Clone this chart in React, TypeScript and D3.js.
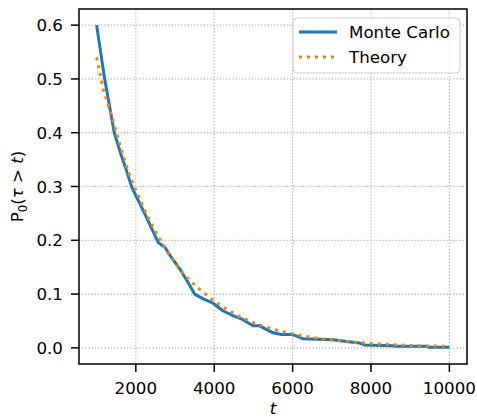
import React from "react";
import { scaleLinear, line } from "d3";

// Monte Carlo estimate (t, P0)
const mcT = [1000, 1200, 1450, 1620, 1760, 1890, 2000, 2190, 2570, 2740, 2910, 3120, 3330, 3500, 3720, 3970, 4220, 4480, 4690, 4990, 5160, 5500, 5710, 5990, 6260, 7030, 7370, 7710, 7830, 8560, 8640, 9410, 9490, 10000];
const mcP = [0.6, 0.502, 0.4, 0.36, 0.33, 0.3, 0.283, 0.255, 0.196, 0.187, 0.168, 0.147, 0.122, 0.1, 0.091, 0.083, 0.069, 0.06, 0.054, 0.041, 0.041, 0.028, 0.025, 0.025, 0.017, 0.015, 0.012, 0.009, 0.0055, 0.004, 0.003, 0.003, 0.001, 0.001];

// theory curve
const thT = [1000, 1170, 1380, 1550, 1800, 2000, 2230, 2530, 2870, 3250, 3560, 3900, 4270, 4630, 5030, 5230, 5640, 6070, 6500, 6940, 7580, 8000, 8640, 9320, 10000];
const thP = [0.54, 0.48, 0.432, 0.388, 0.329, 0.293, 0.255, 0.212, 0.171, 0.134, 0.113, 0.092, 0.074, 0.059, 0.046, 0.041, 0.032, 0.025, 0.019, 0.015, 0.0105, 0.008, 0.0056, 0.0037, 0.003];

const xTicks = [2000, 4000, 6000, 8000, 10000];
const yTicks = [0, 0.1, 0.2, 0.3, 0.4, 0.5, 0.6];

const W = 477;
const H = 417;
const left = 79, right = 467, top = 9, bottom = 364;
const font = "DejaVu Sans, sans-serif";
const fs = 16.7;

export default function App() {
  const x = scaleLinear().domain([550, 10450]).range([left, right]);
  const y = scaleLinear().domain([-0.03, 0.63]).range([bottom, top]);

  const mk = line<number>()
    .x((d, i) => x(mcT[i]))
    .y((d) => y(d));
  const th = line<number>()
    .x((d, i) => x(thT[i]))
    .y((d) => y(d));

  return (
    <svg width={W} height={H} style={{ position: "absolute", left: 0, top: 0 }} fontFamily={font}>
      <rect width={W} height={H} fill="#fff" />
      {/* grid */}
      <g stroke="#b0b0b0" strokeWidth={1.2} strokeDasharray="1.2 2">
        {xTicks.map((t) => (
          <line key={"gx" + t} x1={x(t)} x2={x(t)} y1={top} y2={bottom} />
        ))}
        {yTicks.map((t) => (
          <line key={"gy" + t} x1={left} x2={right} y1={y(t)} y2={y(t)} />
        ))}
      </g>

      <path d={mk(mcP) || ""} fill="none" stroke="#1f77b4" strokeWidth={3} strokeLinejoin="round" />
      <path d={th(thP) || ""} fill="none" stroke="#ff7f0e" strokeWidth={3} strokeDasharray="3 5" />

      {/* spines */}
      <rect x={left} y={top} width={right - left} height={bottom - top} fill="none" stroke="#000" strokeWidth={1.5} />

      {/* x axis */}
      {xTicks.map((t) => (
        <g key={"xt" + t}>
          <line x1={x(t)} x2={x(t)} y1={bottom} y2={bottom + 8} stroke="#000" strokeWidth={1.5} />
          <text x={x(t)} y={394} fontSize={fs} textAnchor="middle" fill="#000">{t}</text>
        </g>
      ))}
      {/* y axis */}
      {yTicks.map((t) => (
        <g key={"yt" + t}>
          <line x1={left - 8} x2={left} y1={y(t)} y2={y(t)} stroke="#000" strokeWidth={1.5} />
          <text x={63} y={y(t) + 6} fontSize={fs} textAnchor="end" fill="#000">{t.toFixed(1)}</text>
        </g>
      ))}

      <text x={(left + right) / 2} y={414} fontSize={fs} textAnchor="middle" fontStyle="italic" fill="#000">t</text>
      <text transform={`translate(23,${(top + bottom) / 2}) rotate(-90)`} fontSize={fs} textAnchor="middle" fill="#000">
        P<tspan fontSize={fs * 0.7} dy={4}>0</tspan><tspan dy={-4}>(</tspan><tspan fontStyle="italic">τ</tspan>{" > "}<tspan fontStyle="italic">t</tspan>)
      </text>

      {/* legend */}
      <g>
        <rect x={293} y={18} width={167} height={55} rx={4} fill="#fff" fillOpacity={0.8} stroke="#cccccc" strokeWidth={1} />
        <line x1={299} x2={337} y1={32} y2={32} stroke="#1f77b4" strokeWidth={3} />
        <text x={349} y={38} fontSize={fs} fill="#000">Monte Carlo</text>
        <line x1={299} x2={337} y1={57} y2={57} stroke="#ff7f0e" strokeWidth={3} strokeDasharray="3 5" />
        <text x={349} y={63} fontSize={fs} fill="#000">Theory</text>
      </g>
    </svg>
  );
}
